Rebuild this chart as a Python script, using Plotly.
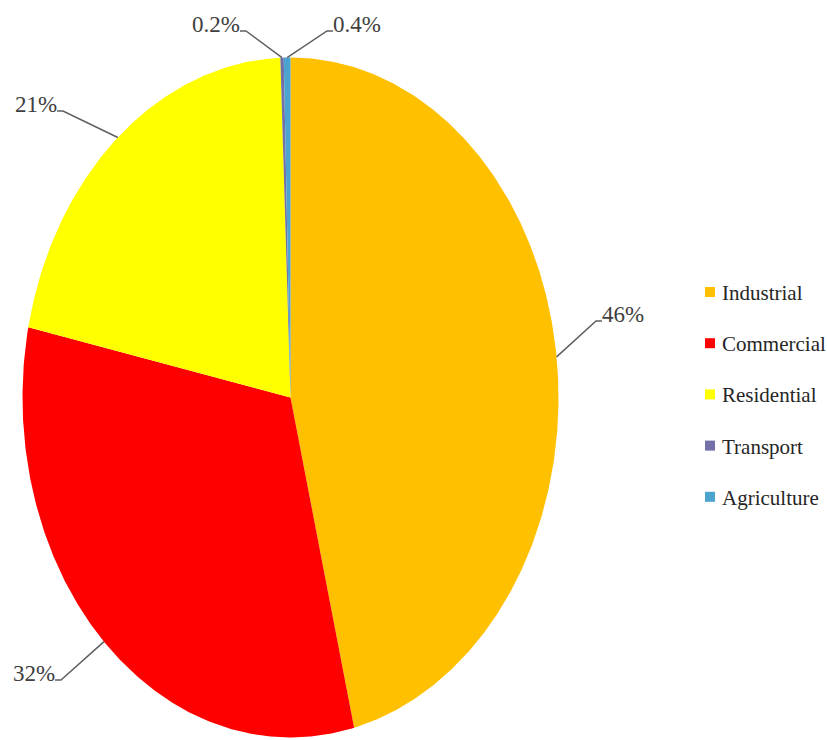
import numpy as np
import plotly.graph_objects as go

# Electricity consumption share by sector (%)
sectors = ["Industrial", "Commercial", "Residential", "Transport", "Agriculture"]
shares = [46, 32, 21, 0.2, 0.4]
colors = ["#FFC000", "#FF0000", "#FFFF00", "#7370A8", "#4BA3D0"]

# Where each percentage label sits (pixel space of the canvas)
label_pos = [(623, 314), (34, 673), (36, 104), (216, 24), (357, 24)]
label_side = ["left", "right", "right", "right", "left"]

SERIF = "Liberation Serif"

W, H = 827, 740
cx, cy = 290.5, 397.5      # pie centre
rx, ry = 268, 340          # pie radii (stretched vertically)

# Legend block placement
leg_x, leg_y0, leg_dy = 710, 292, 51.2


def ellipse_pt(theta_deg):
    t = np.radians(theta_deg)
    return cx + rx * np.sin(t), cy - ry * np.cos(t)


fig = go.Figure()

total = sum(shares)
start = 0.0
mids = []
for name, v, col in zip(sectors, shares, colors):
    sweep = 360.0 * v / total
    angs = np.linspace(start, start + sweep, max(3, int(sweep * 2) + 2))
    px, py = ellipse_pt(angs)
    xs = np.concatenate([[cx], px, [cx]])
    ys = np.concatenate([[cy], py, [cy]])
    fig.add_trace(go.Scatter(
        x=xs, y=ys, mode="lines", fill="toself", fillcolor=col,
        line=dict(width=0, color=col), hoverinfo="skip", showlegend=False))
    mids.append(start + sweep / 2)
    start += sweep

# Leader lines and percentage labels
for v, mid, (lx, ly), side in zip(shares, mids, label_pos, label_side):
    ex, ey = ellipse_pt(mid)
    half_w = 21 if v >= 1 else 24
    if side == "right":
        sx = lx + half_w
        path_x = [sx, sx + 6, ex]
    else:
        sx = lx - half_w
        path_x = [sx, sx - 6, ex]
    yy = ly + 7
    fig.add_trace(go.Scatter(
        x=path_x, y=[yy, yy, ey], mode="lines",
        line=dict(color="#5F5F5F", width=1.5), hoverinfo="skip", showlegend=False))
    fig.add_annotation(
        x=lx, y=ly, text=f"{v:g}%", showarrow=False,
        font=dict(family=SERIF, size=23, color="#404040"),
        xanchor="center", yanchor="middle")

# Legend: square swatch plus sector name
leg_ys = [leg_y0 + i * leg_dy for i in range(len(sectors))]
fig.add_trace(go.Scatter(
    x=[leg_x] * len(sectors), y=leg_ys, mode="markers",
    marker=dict(symbol="square", size=10, color=colors),
    hoverinfo="skip", showlegend=False))
for name, y in zip(sectors, leg_ys):
    fig.add_annotation(
        x=leg_x + 10, y=y + 1, text=name, showarrow=False,
        font=dict(family=SERIF, size=21, color="#262626"),
        xanchor="left", yanchor="middle")

fig.update_layout(
    width=W, height=H,
    margin=dict(l=0, r=0, t=0, b=0),
    paper_bgcolor="white", plot_bgcolor="white",
    showlegend=False,
    xaxis=dict(range=[0, W], visible=False, fixedrange=True),
    yaxis=dict(range=[H, 0], visible=False, fixedrange=True),
)

fig.write_html("out.html")
